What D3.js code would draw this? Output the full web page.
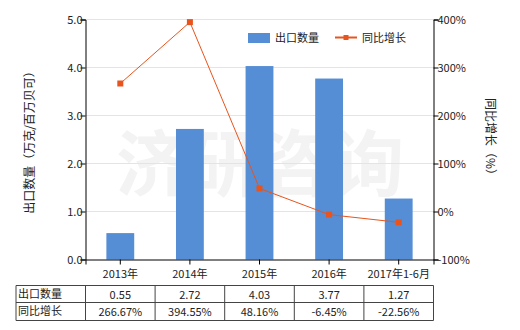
<!DOCTYPE html>
<html>
<head>
<meta charset="utf-8">
<script src="https://cdn.jsdelivr.net/npm/d3@7"></script>
<style>
  body { margin: 0; background: #fff; }
  text { font-family: "Noto Sans CJK SC", "DejaVu Sans", sans-serif; }
</style>
</head>
<body>
<div id="chart"></div>
<script>
let categories = ['2013年', '2014年', '2015年', '2016年', '2017年1-6月'];
let exportQty = [0.55, 2.72, 4.03, 3.77, 1.27];
let growth = [266.67, 394.55, 48.16, -6.45, -22.56];
let qtyLabels = ['0.55', '2.72', '4.03', '3.77', '1.27'];
let growthLabels = ['266.67%', '394.55%', '48.16%', '-6.45%', '-22.56%'];
let leftTicks = [0, 1, 2, 3, 4, 5];
let rightTicks = [-100, 0, 100, 200, 300, 400];

let width = 520, height = 330;
let plotLeft = 85.5, plotRight = 433.5, plotTop = 19.5, plotBottom = 259.5;

let svg = d3.select('#chart').append('svg')
  .attr('width', width).attr('height', height);

// watermark
svg.append('text')
  .attr('x', 260).attr('y', 190)
  .attr('text-anchor', 'middle')
  .style('font-size', '72px').style('font-weight', 'bold')
  .style('fill', '#f3f3f3')
  .text('济研咨询');

let x = d3.scaleBand().domain(categories).range([plotLeft, plotRight]);
let yL = d3.scaleLinear().domain([0, 5]).range([plotBottom, plotTop]);
let yR = d3.scaleLinear().domain([-100, 400]).range([plotBottom, plotTop]);

// grid
svg.append('g').selectAll('line')
  .data(leftTicks.slice(1))
  .enter().append('line')
  .attr('x1', plotLeft).attr('x2', plotRight)
  .attr('y1', d => yL(d)).attr('y2', d => yL(d))
  .style('stroke', '#e4e4e4');

// bars
let bw = x.bandwidth() * 0.4;
svg.append('g').selectAll('rect')
  .data(exportQty)
  .enter().append('rect')
  .attr('x', (d, i) => x(categories[i]) + x.bandwidth() / 2 - bw / 2)
  .attr('y', d => yL(d))
  .attr('width', bw)
  .attr('height', d => plotBottom - yL(d))
  .style('fill', '#558ed5');

// line
let line = d3.line()
  .x((d, i) => x(categories[i]) + x.bandwidth() / 2)
  .y(d => yR(d));
svg.append('path')
  .datum(growth)
  .attr('d', line)
  .style('fill', 'none').style('stroke', '#e8541c').style('stroke-width', 1);
svg.append('g').selectAll('rect')
  .data(growth)
  .enter().append('rect')
  .attr('x', (d, i) => x(categories[i]) + x.bandwidth() / 2 - 3)
  .attr('y', d => yR(d) - 3)
  .attr('width', 6).attr('height', 6)
  .style('fill', '#e8541c');

// axes
let axL = d3.axisLeft(yL).tickValues(leftTicks).tickFormat(d3.format('.1f')).tickSize(5);
let gL = svg.append('g').attr('transform', 'translate(' + plotLeft + ',0)').call(axL);
let axR = d3.axisRight(yR).tickValues(rightTicks).tickFormat(d => d + '%').tickSize(5);
let gR = svg.append('g').attr('transform', 'translate(' + plotRight + ',0)').call(axR);
let axB = d3.axisBottom(x).tickSize(5).tickFormat('');
let gB = svg.append('g').attr('transform', 'translate(0,' + plotBottom + ')').call(axB);
[gL, gR, gB].forEach(g => {
  g.select('.domain').style('stroke', '#000');
  g.selectAll('.tick line').style('stroke', '#000');
  g.selectAll('text').style('font-size', '11px').style('fill', '#222')
    .style('font-family', '"Noto Sans CJK SC", sans-serif');
});
gL.selectAll('text').attr('x', -3);
gR.selectAll('text').attr('x', 4);

// category labels
svg.append('g').selectAll('text')
  .data(categories)
  .enter().append('text')
  .attr('x', d => x(d) + x.bandwidth() / 2)
  .attr('y', 278)
  .attr('text-anchor', 'middle')
  .style('font-size', '11px').style('fill', '#222')
  .text(d => d);

// axis titles
svg.append('text')
  .attr('transform', 'translate(34,' + ((plotTop + plotBottom) / 2) + ') rotate(-90)')
  .attr('text-anchor', 'middle')
  .style('font-size', '12px').style('fill', '#222')
  .text('出口数量（万克/百万贝可）');
svg.append('text')
  .attr('transform', 'translate(486,' + ((plotTop + plotBottom) / 2) + ') rotate(90)')
  .attr('text-anchor', 'middle')
  .style('font-size', '12px').style('fill', '#222')
  .text('同比增长（%）');

// legend
svg.append('rect').attr('x', 248).attr('y', 33).attr('width', 22).attr('height', 10).style('fill', '#558ed5');
svg.append('text').attr('x', 275).attr('y', 42).style('font-size', '11px').style('fill', '#222').text('出口数量');
svg.append('line').attr('x1', 335).attr('x2', 357).attr('y1', 37.5).attr('y2', 37.5).style('stroke', '#e8541c').style('stroke-width', 2);
svg.append('rect').attr('x', 343.5).attr('y', 35).attr('width', 5).attr('height', 5).style('fill', '#e8541c');
svg.append('text').attr('x', 362).attr('y', 42).style('font-size', '11px').style('fill', '#222').text('同比增长');

// table
let tLeft = 16, rowY = [285.5, 302.5, 320.5];
let tbl = svg.append('g').style('stroke', '#444').style('stroke-width', 1);
rowY.forEach(yy => tbl.append('line').attr('x1', tLeft).attr('x2', plotRight).attr('y1', yy).attr('y2', yy));
let colX = [tLeft, plotLeft].concat(categories.map(c => x(c) + x.bandwidth()));
colX.forEach(xx => tbl.append('line').attr('x1', xx).attr('x2', xx).attr('y1', rowY[0]).attr('y2', rowY[2]));

let rows = [{name: '出口数量', vals: qtyLabels}, {name: '同比增长', vals: growthLabels}];
rows.forEach((r, ri) => {
  let yy = rowY[ri] + 13;
  svg.append('text').attr('x', tLeft + 2).attr('y', yy - 1)
    .style('font-size', '11px').style('fill', '#222').text(r.name);
  svg.append('g').selectAll('text')
    .data(r.vals)
    .enter().append('text')
    .attr('x', (d, i) => x(categories[i]) + x.bandwidth() / 2)
    .attr('y', yy)
    .attr('text-anchor', 'middle')
    .style('font-size', '11px').style('fill', '#222')
    .text(d => d);
});
</script>
</body>
</html>
